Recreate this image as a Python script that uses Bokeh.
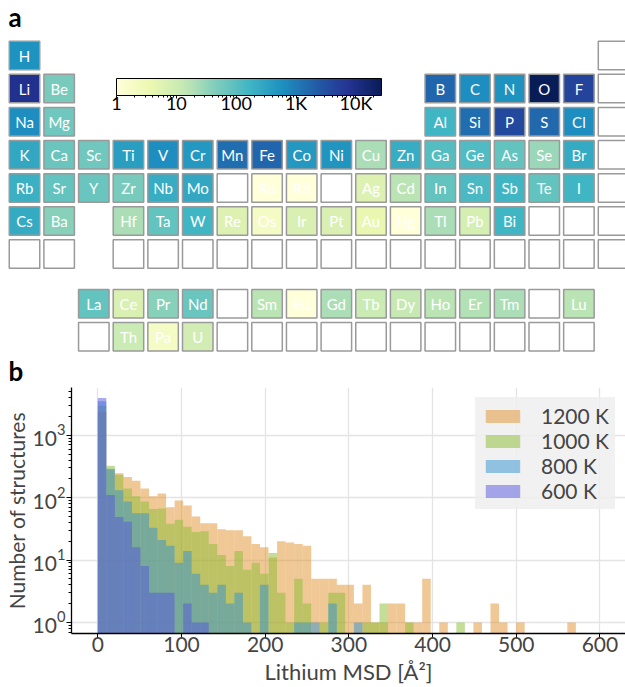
import numpy as np
from bokeh.plotting import figure
from bokeh.models import (ColumnDataSource, LogColorMapper, ColorBar, FixedTicker,
                          Range1d, Legend, LegendItem)
from bokeh.layouts import column
from bokeh.core.properties import value
from bokeh.embed import file_html
from bokeh.resources import INLINE

FONT = "Lato"

# ---------------- data: periodic table (rows and their groups) ----------------
period1 = ["H", "He"]
period1_groups = [1, 18]
period2 = ["Li", "Be", "B", "C", "N", "O", "F", "Ne"]
period2_groups = [1, 2, 13, 14, 15, 16, 17, 18]
period3 = ["Na", "Mg", "Al", "Si", "P", "S", "Cl", "Ar"]
period3_groups = [1, 2, 13, 14, 15, 16, 17, 18]
period4 = ["K", "Ca", "Sc", "Ti", "V", "Cr", "Mn", "Fe", "Co", "Ni", "Cu", "Zn",
           "Ga", "Ge", "As", "Se", "Br", "Kr"]
period4_groups = list(range(1, 19))
period5 = ["Rb", "Sr", "Y", "Zr", "Nb", "Mo", "Tc", "Ru", "Rh", "Pd", "Ag", "Cd",
           "In", "Sn", "Sb", "Te", "I", "Xe"]
period5_groups = list(range(1, 19))
period6 = ["Cs", "Ba", "Hf", "Ta", "W", "Re", "Os", "Ir", "Pt", "Au", "Hg",
           "Tl", "Pb", "Bi", "Po", "At", "Rn"]
period6_groups = [1, 2] + list(range(4, 19))
period7 = ["Fr", "Ra", "Rf", "Db", "Sg", "Bh", "Hs", "Mt", "Ds", "Rg", "Cn",
           "Nh", "Fl", "Mc", "Lv", "Ts", "Og"]
period7_groups = [1, 2] + list(range(4, 19))
lanthanides = ["La", "Ce", "Pr", "Nd", "Pm", "Sm", "Eu", "Gd", "Tb", "Dy", "Ho",
               "Er", "Tm", "Yb", "Lu"]
lanthanide_groups = list(range(3, 18))
actinides = ["Ac", "Th", "Pa", "U", "Np", "Pu", "Am", "Cm", "Bk", "Cf", "Es",
             "Fm", "Md", "No", "Lr"]
actinide_groups = list(range(3, 18))

# number of structures containing each element (read from the colour scale)
element_counts = {
    "H": 560, "Li": 8700, "Be": 53, "B": 1700, "C": 620, "N": 560, "O": 26700, "F": 4800,
    "Na": 620, "Mg": 65, "Al": 165, "Si": 1400, "P": 3900, "S": 1600, "Cl": 620,
    "K": 270, "Ca": 73, "Sc": 65, "Ti": 370, "V": 620, "Cr": 460, "Mn": 1400, "Fe": 1700,
    "Co": 460, "Ni": 510, "Cu": 21, "Zn": 225, "Ga": 110, "Ge": 120, "As": 80, "Se": 29,
    "Br": 250,
    "Rb": 200, "Sr": 80, "Y": 73, "Zr": 53, "Nb": 225, "Mo": 270, "Ru": 1, "Rh": 1,
    "Ag": 6, "Cd": 16, "In": 80, "Sn": 135, "Sb": 165, "Te": 80, "I": 165,
    "Cs": 250, "Ba": 40, "Hf": 21, "Ta": 80, "W": 165, "Re": 6, "Os": 2, "Ir": 7,
    "Pt": 7, "Au": 4, "Hg": 1, "Tl": 21, "Pb": 8, "Bi": 165,
    "La": 80, "Ce": 7, "Pr": 40, "Nd": 73, "Sm": 16, "Eu": 1, "Gd": 21, "Tb": 11,
    "Dy": 13, "Ho": 16, "Er": 19, "Tm": 21, "Lu": 16,
    "Th": 11, "Pa": 2, "U": 9,
}

cbar_ticks = [1, 10, 100, 1000, 10000]
cbar_labels = ["1", "10", "100", "1K", "10K"]
panel_letters = ["a", "b"]

# ---------------- data: histogram of Li MSD ----------------
bin_width = 10.2
hist_1200 = [2350, 280, 245, 215, 187, 140, 105, 116, 70, 90,
             75, 50, 39, 39, 31, 30, 30, 24, 18, 16,
             11, 20, 19, 18, 17, 5, 5, 5, 4, 4,
             2, 4, 1, 1, 2, 2, 1, 1, 5, 0,
             1, 0, 0, 0, 1, 0, 2, 1, 0, 1,
             0, 0, 0, 0, 0, 1]
hist_1000 = [2970, 323, 233, 140, 105, 87, 66, 67, 38, 44,
             34, 28, 29, 18, 12, 8, 14, 7, 9, 6,
             13, 3, 1, 5, 2, 0, 1, 3, 3, 0,
             0, 1, 1, 2, 0, 0, 1, 0, 0, 0,
             0, 0, 1, 0, 0, 0, 0, 0, 0, 0,
             0, 0, 0, 0, 0, 0]
hist_800 = [3500, 290, 131, 87, 56, 56, 33, 21, 17, 9,
            14, 6, 4, 3, 4, 2, 3, 1, 0, 4,
            0, 0, 0, 1, 1, 1, 0, 2, 0, 0,
            1, 0, 0, 0, 0, 0, 0, 0, 0, 0,
            0, 0, 0, 0, 0, 0, 0, 0, 0, 0,
            0, 0, 0, 0, 0, 0]
hist_600 = [3950, 110, 49, 41, 16, 8, 3, 3, 3, 0,
            2, 1, 1, 0, 0, 0, 0, 0, 0, 0,
            0, 0, 0, 0, 0, 0, 0, 0, 0, 0,
            0, 0, 0, 0, 0, 0, 0, 0, 0, 0,
            0, 0, 0, 0, 0, 0, 0, 0, 0, 0,
            0, 0, 0, 0, 0, 0]
series_labels = ["1200 K", "1000 K", "800 K", "600 K"]
series_colors = ["#e1912d", "#89bd31", "#3191d1", "#5555dd"]
x_ticks = [0, 100, 200, 300, 400, 500, 600]

# ---------------- colour palette (YlGnBu, interpolated) ----------------
base = ['#ffffd9', '#edf8b1', '#c7e9b4', '#7fcdbb', '#41b6c4', '#1d91c0',
        '#225ea8', '#253494', '#081d58']
rgb = [tuple(int(h[i:i + 2], 16) for i in (1, 3, 5)) for h in base]
palette = []
for i in range(256):
    t = i / 255 * (len(base) - 1)
    k = min(int(t), len(base) - 2)
    f = t - k
    c = [round(a + (b - a) * f) for a, b in zip(rgb[k], rgb[k + 1])]
    palette.append('#%02x%02x%02x' % tuple(c))

# ---------------- panel a: periodic table ----------------
rows = [(period1, period1_groups, 1), (period2, period2_groups, 2),
        (period3, period3_groups, 3), (period4, period4_groups, 4),
        (period5, period5_groups, 5), (period6, period6_groups, 6),
        (period7, period7_groups, 7), (lanthanides, lanthanide_groups, 8.5),
        (actinides, actinide_groups, 9.5)]

sym_all, x_all, y_all, c_all = [], [], [], []
for syms, grps, rowy in rows:
    for s, g in zip(syms, grps):
        sym_all.append(s)
        x_all.append(g)
        y_all.append(rowy)
        c_all.append(element_counts.get(s, 0))

present = [i for i in range(len(sym_all)) if c_all[i] > 0]
absent = [i for i in range(len(sym_all)) if c_all[i] == 0]
src_p = ColumnDataSource(dict(x=[x_all[i] for i in present], y=[y_all[i] for i in present],
                              sym=[sym_all[i] for i in present], n=[c_all[i] for i in present]))
src_a = ColumnDataSource(dict(x=[x_all[i] for i in absent], y=[y_all[i] for i in absent]))

WA, HA = 625, 387
xpitch, ypitch = 34.65, 33.1
x0 = 1 - 24 / xpitch
ytop = 1 - 55 / ypitch
pa = figure(width=WA, height=HA, output_backend="svg", toolbar_location=None, title=None,
            x_range=Range1d(x0, x0 + WA / xpitch),
            y_range=Range1d(ytop + HA / ypitch, ytop),
            min_border=0, min_border_left=0, min_border_right=0,
            min_border_top=0, min_border_bottom=0)
pa.frame_align = False
pa.axis.visible = False
pa.grid.visible = False
pa.outline_line_color = None

mapper = LogColorMapper(palette=palette, low=1, high=max(element_counts.values()))
cw, ch = 30.5 / xpitch, 28.5 / ypitch
pa.rect(x="x", y="y", width=cw, height=ch, source=src_a, fill_color="white",
        line_color="#9a9a9a", line_width=1.5)
pa.rect(x="x", y="y", width=cw, height=ch, source=src_p,
        fill_color={"field": "n", "transform": mapper},
        line_color="#9a9a9a", line_width=1.5)
pa.text(x="x", y="y", text="sym", source=src_p, text_color="white",
        text_align="center", text_baseline="middle",
        text_font=value(FONT), text_font_size="15px")

cb = ColorBar(color_mapper=mapper, orientation="horizontal", width=265, height=17,
              location=(116, 271), padding=0,
              ticker=FixedTicker(ticks=cbar_ticks,
                                 minor_ticks=[m * d for d in (1, 10, 100, 1000, 10000)
                                              for m in range(2, 10)]),
              major_label_overrides={t: l for t, l in zip(cbar_ticks, cbar_labels)},
              major_label_text_font=FONT, major_label_text_font_size="18px",
              major_label_text_color="black",
              major_tick_in=0, major_tick_out=3, minor_tick_in=0, minor_tick_out=2,
              major_tick_line_color="black", minor_tick_line_color="black",
              bar_line_color="black", bar_line_width=1,
              background_fill_alpha=0, border_line_color=None, label_standoff=-7)
pa.add_layout(cb, "center")

# panel letters (placed in the table canvas: 'a' at its top, 'b' just above panel b)
letter_src = ColumnDataSource(dict(
    x=[x0 + 8 / xpitch, x0 + 8 / xpitch],
    y=[ytop + 16 / ypitch, ytop + 370 / ypitch],
    t=panel_letters))
pa.text(x="x", y="y", text="t", source=letter_src, text_color="black",
        text_align="left", text_baseline="middle",
        text_font=value(FONT), text_font_style="bold", text_font_size="26px")

# ---------------- panel b: histogram ----------------
WB, HB = 625, 300
pb = figure(width=WB, height=HB, y_axis_type="log", output_backend="svg",
            toolbar_location=None, title=None,
            x_range=Range1d(-31.4, 630.5), y_range=Range1d(0.664, 5820),
            min_border_left=71, min_border_right=0, min_border_top=0,
            min_border_bottom=0)
pb.frame_align = False
pb.outline_line_color = None

all_hists = [hist_1200, hist_1000, hist_800, hist_600]
renderers = []
for h, col in zip(all_hists, series_colors):
    idx = [i for i, v in enumerate(h) if v > 0]
    src = ColumnDataSource(dict(left=[i * bin_width for i in idx],
                                right=[(i + 1) * bin_width for i in idx],
                                top=[h[i] for i in idx],
                                bottom=[0.1] * len(idx)))
    r = pb.quad(left="left", right="right", top="top", bottom="bottom", source=src,
                fill_color=col, fill_alpha=0.5, line_color=None)
    renderers.append(r)

legend = Legend(items=[LegendItem(label=l, renderers=[r])
                       for l, r in zip(series_labels, renderers)],
                location="top_right", margin=10, padding=6, spacing=0,
                glyph_width=43, glyph_height=16, label_standoff=17,
                label_text_font=FONT, label_text_font_size="21px",
                background_fill_color="#efefef", background_fill_alpha=0.85,
                border_line_alpha=0)
pb.add_layout(legend, "center")

pb.xaxis.ticker = FixedTicker(ticks=x_ticks)
pb.xaxis.axis_label = "Lithium MSD [Å²]"
pb.yaxis.axis_label = "Number of structures"
for ax in (pb.xaxis, pb.yaxis):
    ax.axis_label_text_font = FONT
    ax.axis_label_text_font_style = "normal"
    ax.axis_label_text_font_size = "22px"
    ax.major_label_text_font = FONT
    ax.major_label_text_font_size = "21px"
    ax.axis_line_color = "black"
    ax.axis_line_width = 1.3
    ax.major_tick_line_color = "black"
    ax.major_tick_in = 0
    ax.major_tick_out = 5
    ax.minor_tick_in = 0
    ax.minor_tick_out = 3
    ax.major_label_standoff = 1
pb.xaxis.major_label_standoff = -2
pb.xaxis.axis_label_standoff = 3
pb.yaxis.axis_label_standoff = 1
pb.yaxis.axis_label_text_font_size = "21px"
pb.xaxis.minor_tick_line_color = None
pb.grid.grid_line_color = "#e4e4e4"
pb.grid.grid_line_width = 1.3

layout = column(pa, pb, spacing=0)
open("out.html", "w").write(file_html(layout, INLINE))
